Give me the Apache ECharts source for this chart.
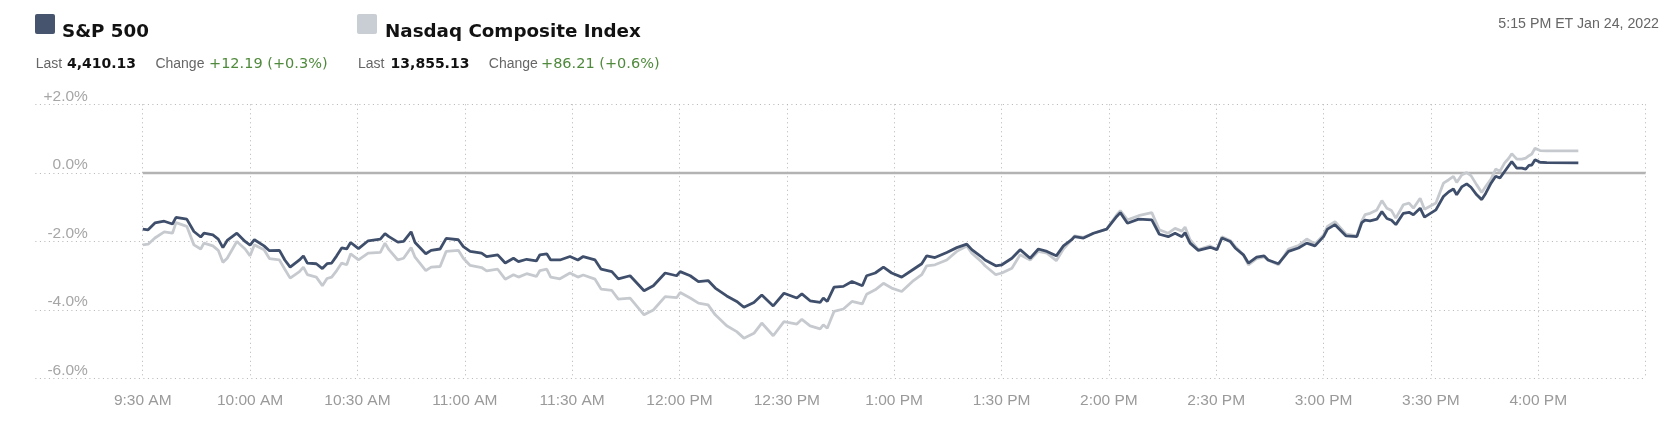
<!DOCTYPE html>
<html><head><meta charset="utf-8">
<script src="https://cdn.jsdelivr.net/npm/echarts@6/dist/echarts.min.js"></script>
<style>
html,body{margin:0;padding:0;background:#fff;}
#wrap{position:relative;width:1679px;height:431px;overflow:hidden;}
#chart{position:absolute;left:0;top:0;width:1679px;height:431px;}
.sw{position:absolute;top:14px;width:20px;height:20px;border-radius:2px;}
.title{position:absolute;top:20.5px;font-family:'DejaVu Sans',sans-serif;font-weight:bold;font-size:18.3px;line-height:20px;color:#121212;white-space:nowrap;}
.st{position:absolute;top:55.4px;line-height:16px;white-space:nowrap;}
.lbl{font-family:'Liberation Sans',Arial,sans-serif;font-size:14px;color:#666;}
.num{font-family:'DejaVu Sans',sans-serif;font-weight:bold;font-size:14px;color:#121212;}
.chg{font-family:'DejaVu Sans',sans-serif;font-size:14.5px;color:#4f8a3c;}
.ts{position:absolute;top:14.9px;right:20px;line-height:16px;font-family:'Liberation Sans',Arial,sans-serif;font-size:14.2px;color:#666;white-space:nowrap;}
</style>
</head><body>
<div id="wrap">
<div id="chart"></div>
<div class="sw" style="left:35px;background:#46546e;"></div>
<div class="title" style="left:62px;">S&amp;P 500</div>
<div class="sw" style="left:357px;background:#c9ced4;"></div>
<div class="title" style="left:385px;">Nasdaq Composite Index</div>
<div class="st lbl" style="left:35.7px;">Last</div>
<div class="st num" style="left:67px;">4,410.13</div>
<div class="st lbl" style="left:155.4px;">Change</div>
<div class="st chg" style="left:209px;">+12.19 (+0.3%)</div>
<div class="st lbl" style="left:358px;">Last</div>
<div class="st num" style="left:390.6px;">13,855.13</div>
<div class="st lbl" style="left:488.8px;">Change</div>
<div class="st chg" style="left:541px;">+86.21 (+0.6%)</div>
<div class="ts">5:15 PM ET Jan 24, 2022</div>
</div>
<script>
// minutes after 9:30 AM
const minutes = [
0,1.5,3.4,6,8.3,9.3,12.3,14.3,16.2,17.1,
19.6,21.1,22.4,23.6,26.3,28.6,30,31.2,33.9,35.4,
38.2,39.7,41.2,43.8,44.9,46,48.5,50.2,51.5,52.8,
54.2,55.6,57,58.1,60.3,63,66.4,67.7,68.8,71.3,
72.9,75,76.1,79.1,80.6,83.1,84.8,88.2,89.6,91.5,
94.7,96.1,99.2,101.3,103.6,105,107.3,110,111,112.9,
114,116.6,119.4,121.6,123.1,126.4,128.1,131.1,132.9,136.2,
140.1,142.7,146,149.2,150.2,153,155.3,158,160,163.2,
166,168,170.8,173,176.2,179.2,182.8,184.2,186.5,189.3,
190.2,191.3,193.2,195.8,198.2,201.1,202.3,204.7,207,209.3,
212.1,215.4,217.7,219.1,221.4,224.7,227.5,230.3,231.7,234.3,
235.4,238.4,240.1,242.9,245.2,248,250.3,252.7,255.3,257.3,
259.6,260.4,262.9,265.7,269.4,272.2,273.2,275.2,278.3,282,
284.1,286.6,288.5,290.4,291.3,292.7,295,298.3,300.2,301.6,
303.9,305.3,307.6,309,311.3,313.4,314.5,317.4,320.2,323,
325.3,327.6,330,331.1,333.2,336.3,339.3,340.7,341.6,343,
344.9,346.3,347.7,349,350.2,352.3,353.9,355.1,357,358.2,
361.4,363.5,365,366.3,367.2,368.6,370,371.2,372.8,374.2,
375.3,376.8,378.1,379.3,380.6,381.7,382.6,384,385.4,386.5,
387.4,388.2,389.1,390.5,392.4,401.2
];
const spValues = [
-1.64,-1.66,-1.46,-1.41,-1.49,-1.30,-1.35,-1.71,-1.87,-1.76,
-1.81,-1.93,-2.18,-1.97,-1.76,-2.00,-2.11,-1.95,-2.13,-2.27,
-2.26,-2.54,-2.75,-2.54,-2.42,-2.63,-2.65,-2.79,-2.65,-2.63,
-2.42,-2.19,-2.22,-2.03,-2.21,-1.98,-1.93,-1.77,-1.86,-2.02,
-2.00,-1.72,-2.03,-2.36,-2.26,-2.22,-1.91,-1.95,-2.15,-2.29,
-2.34,-2.44,-2.39,-2.63,-2.49,-2.59,-2.52,-2.57,-2.39,-2.36,
-2.54,-2.54,-2.44,-2.54,-2.44,-2.54,-2.81,-2.88,-3.09,-3.00,
-3.44,-3.29,-2.92,-3.00,-2.88,-3.00,-3.17,-3.14,-3.36,-3.59,
-3.75,-3.92,-3.78,-3.56,-3.88,-3.51,-3.65,-3.53,-3.73,-3.78,
-3.65,-3.75,-3.33,-3.31,-3.17,-3.29,-3.00,-2.92,-2.75,-2.92,
-3.04,-2.81,-2.65,-2.42,-2.47,-2.32,-2.18,-2.08,-2.24,-2.44,
-2.54,-2.71,-2.68,-2.49,-2.24,-2.49,-2.22,-2.29,-2.42,-2.13,
-1.95,-1.86,-1.90,-1.76,-1.64,-1.27,-1.16,-1.47,-1.35,-1.37,
-1.79,-1.86,-1.76,-1.86,-1.74,-2.05,-2.26,-2.17,-2.24,-1.90,
-2.00,-2.19,-2.39,-2.63,-2.46,-2.42,-2.54,-2.65,-2.29,-2.19,
-2.05,-2.13,-1.86,-1.64,-1.51,-1.84,-1.86,-1.45,-1.38,-1.40,
-1.35,-1.13,-1.33,-1.38,-1.51,-1.18,-1.15,-1.22,-1.03,-1.29,
-1.08,-0.69,-0.55,-0.47,-0.64,-0.41,-0.32,-0.42,-0.64,-0.78,
-0.60,-0.30,-0.10,-0.15,0.04,0.20,0.33,0.14,0.14,0.11,
0.22,0.23,0.38,0.31,0.30,0.29
];
const nasdaqValues = [
-2.10,-2.08,-1.90,-1.72,-1.76,-1.45,-1.56,-2.10,-2.22,-2.05,
-2.13,-2.26,-2.61,-2.49,-2.00,-2.22,-2.42,-2.10,-2.24,-2.50,
-2.54,-2.81,-3.07,-2.88,-2.75,-2.97,-3.04,-3.29,-3.08,-3.04,
-2.85,-2.63,-2.68,-2.36,-2.54,-2.34,-2.32,-2.05,-2.24,-2.54,
-2.49,-2.18,-2.46,-2.85,-2.75,-2.73,-2.29,-2.26,-2.49,-2.70,
-2.76,-2.86,-2.81,-3.10,-2.97,-3.04,-2.94,-3.02,-2.85,-2.81,
-3.04,-3.09,-2.92,-3.04,-2.98,-3.10,-3.39,-3.43,-3.68,-3.65,
-4.14,-4.00,-3.61,-3.64,-3.49,-3.65,-3.80,-3.85,-4.14,-4.46,
-4.63,-4.82,-4.68,-4.38,-4.75,-4.34,-4.41,-4.27,-4.46,-4.55,
-4.43,-4.53,-4.04,-3.97,-3.75,-3.82,-3.54,-3.41,-3.22,-3.36,
-3.46,-3.14,-2.97,-2.71,-2.68,-2.54,-2.29,-2.13,-2.34,-2.58,
-2.71,-2.97,-2.92,-2.78,-2.39,-2.54,-2.29,-2.34,-2.56,-2.22,
-1.95,-1.84,-1.88,-1.76,-1.64,-1.22,-1.10,-1.37,-1.25,-1.16,
-1.66,-1.76,-1.62,-1.70,-1.58,-1.95,-2.24,-2.13,-2.24,-1.86,
-1.97,-2.15,-2.39,-2.68,-2.50,-2.45,-2.55,-2.68,-2.22,-2.12,
-1.93,-2.07,-1.81,-1.56,-1.42,-1.79,-1.84,-1.40,-1.22,-1.18,
-1.08,-0.81,-1.03,-1.10,-1.32,-0.93,-0.88,-1.03,-0.74,-1.06,
-0.88,-0.30,-0.20,-0.10,-0.28,-0.06,0.01,-0.08,-0.35,-0.57,
-0.40,-0.18,0.11,0.05,0.29,0.42,0.56,0.40,0.40,0.43,
0.50,0.55,0.72,0.65,0.64,0.64
];
const xTickLabels = ['9:30 AM','10:00 AM','10:30 AM','11:00 AM','11:30 AM','12:00 PM','12:30 PM','1:00 PM','1:30 PM','2:00 PM','2:30 PM','3:00 PM','3:30 PM','4:00 PM'];
const yTickLabels = ['-6.0%','-4.0%','-2.0%','0.0%','+2.0%'];
const baselineMinutes = [0, 420];

const chart = echarts.init(document.getElementById('chart'), null, {renderer:'canvas'});
const gridStyle = {color:'#b4b4b4', width:1, type:[1,3.5]};
chart.setOption({
  animation:false,
  grid:{left:35.4, right:33.4, top:104.3, bottom:52.4, containLabel:false},
  xAxis:{
    type:'value', min:-30, max:420, interval:30,
    axisLine:{show:false}, axisTick:{show:false},
    splitLine:{show:true, showMinLine:false, lineStyle:gridStyle},
    axisLabel:{
      color:'#9a9a9a', fontFamily:'Liberation Sans', fontSize:15.5, margin:14,
      formatter:function(v){ const i=Math.round(v/30); return (i>=0 && i<xTickLabels.length)? xTickLabels[i] : ''; }
    }
  },
  yAxis:{
    type:'value', min:-6, max:2, interval:2,
    axisLine:{show:false}, axisTick:{show:false},
    splitLine:{show:true, lineStyle:gridStyle},
    axisLabel:{
      inside:true, align:'right', verticalAlign:'bottom', lineHeight:16, margin:52.5,
      color:'#a6a6a6', fontFamily:'Liberation Sans', fontSize:15.5,
      formatter:function(v){ return yTickLabels[Math.round((v+6)/2)]; }
    }
  },
  series:[
    {type:'line', data:baselineMinutes.map(m=>[m,0]), showSymbol:false, silent:true,
     lineStyle:{color:'#b3b3b3', width:2.5}, z:1},
    {name:'Nasdaq Composite Index', type:'line', data:minutes.map((m,i)=>[m,nasdaqValues[i]]),
     showSymbol:false, lineStyle:{color:'#c6cacf', width:2.8}, z:2},
    {name:'S&P 500', type:'line', data:minutes.map((m,i)=>[m,spValues[i]]),
     showSymbol:false, lineStyle:{color:'#3f4f6b', width:2.8}, z:3}
  ]
});
</script>
</body></html>
